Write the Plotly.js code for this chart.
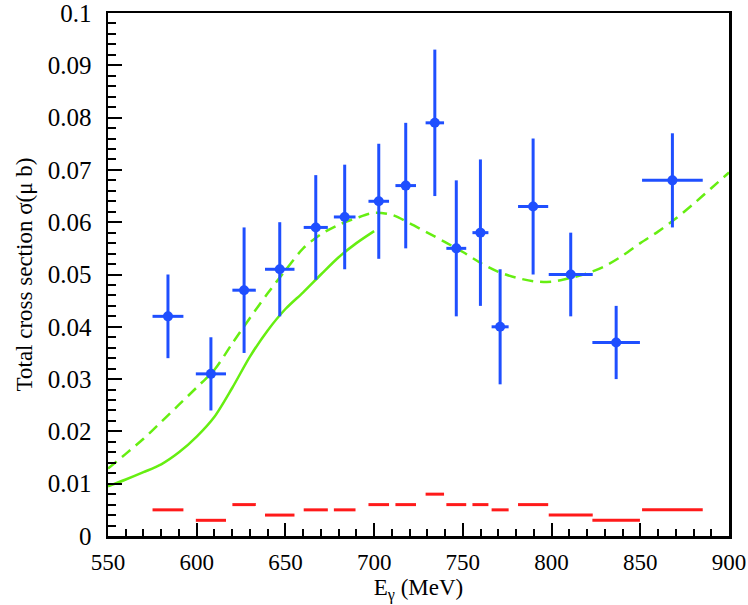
<!DOCTYPE html>
<html>
<head>
<meta charset="utf-8">
<script src="https://cdn.plot.ly/plotly-3.0.1.min.js"></script>
<style>
  html, body { margin: 0; padding: 0; background: #fff; }
  #graph { width: 748px; height: 605px; }
</style>
</head>
<body>
<div id="graph"></div>
<script>
// measured points (E in MeV, sigma in micro barn)
var eCenter = [583.8, 608.0, 626.7, 646.8, 667.1, 683.4, 702.6, 717.8, 734.2, 746.3, 759.9, 771.0, 789.6, 810.8, 836.4, 868.1];
var eHalf   = [8.7, 8.5, 6.6, 8.3, 6.8, 6.1, 5.8, 5.8, 5.2, 5.6, 4.5, 4.8, 8.5, 12.4, 13.4, 17.1];
var sigma   = [0.042, 0.031, 0.047, 0.051, 0.059, 0.061, 0.064, 0.067, 0.079, 0.055, 0.058, 0.040, 0.063, 0.050, 0.037, 0.068];
var sigErr  = [0.008, 0.007, 0.012, 0.009, 0.010, 0.010, 0.011, 0.012, 0.014, 0.013, 0.014, 0.011, 0.013, 0.008, 0.007, 0.009];
// systematic uncertainty per bin
var sysErr  = [0.005, 0.003, 0.006, 0.004, 0.005, 0.005, 0.006, 0.006, 0.008, 0.006, 0.006, 0.005, 0.006, 0.004, 0.003, 0.005];

// model curves
var modelE1 = [550, 560, 570, 580, 590, 600, 610, 620, 630, 640, 650, 660, 670, 680, 690, 700];
var modelS1 = [0.0095, 0.0108, 0.0122, 0.0137, 0.0160, 0.0190, 0.0228, 0.0283, 0.0343, 0.0393, 0.0434, 0.0466, 0.0500, 0.0533, 0.0560, 0.0583];

var modelE2 = [550, 560, 570, 580, 590, 600, 610, 620, 630, 640, 650, 660, 670, 680, 690, 700, 710, 720, 730, 740, 750,
               760, 770, 780, 790, 800, 810, 820, 830, 840, 850, 860, 870, 880, 890, 900];
var modelS2 = [0.0129, 0.0157, 0.0186, 0.0218, 0.0251, 0.0284, 0.0318, 0.0368, 0.0417, 0.0464, 0.0508, 0.0550, 0.0577, 0.0595, 0.0608, 0.0618, 0.0614, 0.0598, 0.0580, 0.0562, 0.0543,
               0.0522, 0.0505, 0.0494, 0.0487, 0.0486, 0.0493, 0.0502, 0.0516, 0.0536, 0.0560, 0.0582, 0.0607, 0.0635, 0.0665, 0.0695];

// red bars: one horizontal segment per bin
var sysX = [], sysY = [];
for (var i = 0; i < eCenter.length; i++) {
  sysX.push(eCenter[i] - eHalf[i], eCenter[i] + eHalf[i], null);
  sysY.push(sysErr[i], sysErr[i], null);
}

var blue = '#1f4fff', green = '#66ee11', red = '#ff1a1a';

var traces = [
  {x: modelE1, y: modelS1, mode: 'lines', line: {color: green, width: 2.5, shape: 'spline', smoothing: 0.8}, hoverinfo: 'skip'},
  {x: modelE2, y: modelS2, mode: 'lines', line: {color: green, width: 2.5, dash: '11px,7px', shape: 'spline', smoothing: 0.8}, hoverinfo: 'skip'},
  {x: sysX, y: sysY, mode: 'lines', line: {color: red, width: 3}, hoverinfo: 'skip'},
  {
    x: eCenter, y: sigma, mode: 'markers',
    marker: {color: blue, size: 10},
    error_y: {type: 'data', array: sigErr, color: blue, thickness: 3, width: 0},
    error_x: {type: 'data', array: eHalf, color: blue, thickness: 3, width: 0}
  }
];

var serif = 'Liberation Serif';

var layout = {
  width: 748, height: 605,
  margin: {l: 108, r: 19, t: 13, b: 69},
  paper_bgcolor: '#fff', plot_bgcolor: '#fff',
  showlegend: false,
  font: {family: serif, size: 24, color: '#000'},
  xaxis: {
    range: [550, 900], dtick: 50, tick0: 550,
    ticks: 'inside', ticklen: 13, tickwidth: 2, tickcolor: '#000',
    minor: {dtick: 10, ticks: 'inside', ticklen: 7, tickwidth: 2, tickcolor: '#000'},
    showgrid: false, zeroline: false,
    showline: true, mirror: true, linewidth: 2.5, linecolor: '#000',
    tickfont: {family: serif, size: 23, color: '#000'},
    ticklabeloverflow: 'allow', ticklabelstandoff: 4,
    title: {text: 'E<sub>γ</sub> (MeV)', font: {family: serif, size: 23, color: '#000'}, standoff: 0}
  },
  yaxis: {
    range: [0, 0.1], dtick: 0.01, tick0: 0,
    ticks: 'inside', ticklen: 14, tickwidth: 2, tickcolor: '#000',
    minor: {dtick: 0.002, ticks: 'inside', ticklen: 8, tickwidth: 2, tickcolor: '#000'},
    showgrid: false, zeroline: false,
    showline: true, mirror: true, linewidth: 2.5, linecolor: '#000',
    tickfont: {family: serif, size: 25, color: '#000'},
    ticklabeloverflow: 'allow', ticklabelstandoff: 9,
    title: {text: 'Total cross section σ(μ b)', font: {family: serif, size: 23, color: '#000'}, standoff: 9}
  }
};

Plotly.newPlot('graph', traces, layout, {displayModeBar: false, staticPlot: true});
</script>
</body>
</html>
